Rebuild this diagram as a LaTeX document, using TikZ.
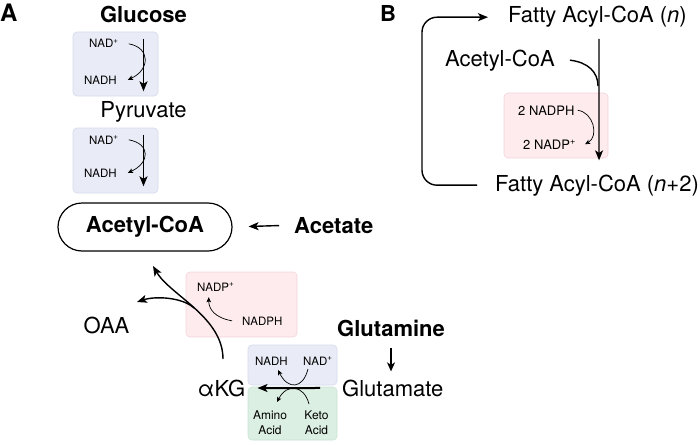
\documentclass[tikz,border=0pt]{standalone}
\usepackage{fontspec}
\setmainfont{TeX Gyre Heros}
\usepackage{tikz}
\usetikzlibrary{arrows.meta,positioning}

\definecolor{lavfill}{RGB}{233,235,246}
\definecolor{lavline}{RGB}{214,218,236}
\definecolor{pinkfill}{RGB}{253,235,237}
\definecolor{pinkline}{RGB}{243,212,218}
\definecolor{greenfill}{RGB}{220,239,227}
\definecolor{greenline}{RGB}{200,226,210}

\begin{document}
\begin{tikzpicture}[x=1pt,y=-1pt,
    >={Stealth[length=10pt,width=8pt,inset=2.5pt]},
    txt/.style={inner sep=0pt,font=\fontsize{22}{26}\selectfont},
    boldtxt/.style={inner sep=0pt,font=\fontsize{22}{26}\selectfont\bfseries},
    smalltxt/.style={inner sep=0pt,font=\fontsize{11.5}{15}\selectfont,align=center},
    redoxbox/.style={rounded corners=4pt,line width=0.6pt,inner sep=0pt},
    lavbox/.style={redoxbox,draw=lavline,fill=lavfill},
    pinkbox/.style={redoxbox,draw=pinkline,fill=pinkfill},
    greenbox/.style={redoxbox,draw=greenline,fill=greenfill},
    mainarr/.style={->,line width=1.4pt},
    thinarr/.style={-{Stealth[length=5pt,width=4.5pt,inset=1pt]},line width=0.7pt}]

  \useasboundingbox (0,0) rectangle (700,444);
%
% panel A : boxes first
  \node[lavbox,minimum width=85pt,minimum height=64pt] (redox1) at (115.5,64) {};
  \node[lavbox,minimum width=85pt,minimum height=65pt] (redox2) at (115.5,160.5) {};
  \node[pinkbox,minimum width=111pt,minimum height=65pt] (idh) at (241.5,304.5) {};
  \node[lavbox,minimum width=89pt,minimum height=40pt] (gdh) at (292.5,365) {};
  \node[greenbox,minimum width=89pt,minimum height=53pt] (trans) at (292.5,413.5) {};
%
  \node[boldtxt,anchor=base west,font=\fontsize{24}{26}\selectfont\bfseries] (lblA) at (0,22) {A};
  \node[boldtxt,anchor=base] (glucose) at (143.5,23) {Glucose};
  \node[txt,anchor=base] (pyruvate) at (143.5,117) {Pyruvate};
  \node[draw,line width=1.2pt,rounded corners=24pt,minimum width=174pt,
        minimum height=48pt,inner sep=0pt,
        font=\fontsize{22}{26}\selectfont\bfseries] (acetyl) at (145,227) {Acetyl-CoA};
  \node[boldtxt,anchor=base west] (acetate) at (294,233) {Acetate};
  \node[txt,anchor=base] (oaa) at (106.5,333) {OAA};
  \node[txt,anchor=base] (akg) at (221.5,396) {αKG};
  \node[boldtxt,anchor=base] (glutamine) at (391,336) {Glutamine};
  \node[txt,anchor=base west] (glutamate) at (342,396) {Glutamate};
%
  \node[smalltxt,anchor=base west] (nad1) at (89,48) {NAD\textsuperscript{+}};
  \node[smalltxt,anchor=base west] (nadh1) at (84,84) {NADH};
  \node[smalltxt,anchor=base west] (nad2) at (89,144) {NAD\textsuperscript{+}};
  \node[smalltxt,anchor=base west] (nadh2) at (84,177) {NADH};
  \node[smalltxt,anchor=base west] (nadp) at (197,291) {NADP\textsuperscript{+}};
  \node[smalltxt,anchor=base west] (nadph) at (242,325) {NADPH};
  \node[smalltxt,anchor=base west] (nadh3) at (255,365) {NADH};
  \node[smalltxt,anchor=base west] (nad3) at (303,365) {NAD\textsuperscript{+}};
  \node[smalltxt,font=\fontsize{12}{15}\selectfont] (amino) at (270,423) {Amino\\Acid};
  \node[smalltxt,font=\fontsize{12}{15}\selectfont] (keto) at (316.5,423) {Keto\\Acid};
%
  \coordinate (kgtop) at (223,359);
  \coordinate (actip) at (153,266);
  \coordinate (oaajoin) at (194,308);
  \coordinate (oaatip) at (137,302);
  \coordinate (nadstart) at (308,369);
  \coordinate (nadhtip) at (278,370);
  \coordinate (ketostart) at (309,404);
  \coordinate (aminotip) at (277,402);
%
  \draw[mainarr] ([yshift=-7pt]redox1.north -| glucose.south) -- ([yshift=5pt]redox1.south -| glucose.south);
  \draw[mainarr] ([yshift=-7pt]redox2.north -| glucose.south) -- ([yshift=7pt]redox2.south -| glucose.south);
  \draw[thinarr] ([xshift=10pt]nad1.east) .. controls +(22,4) and +(22,-10) .. ([xshift=11pt]nadh1.east);
  \draw[thinarr] ([xshift=10pt]nad2.east) .. controls +(22,4) and +(22,-10) .. ([xshift=11pt]nadh2.east);
%
  \draw[mainarr,shorten <=15pt,shorten >=16pt] (acetate.west) -- (acetyl.east);
%
  \draw[mainarr] (kgtop) .. controls +(0,-42) and +(17,29) .. (actip);
  \draw[mainarr] (oaajoin) .. controls +(-12,-11) and +(18,-6) .. (oaatip);
  \draw[thinarr] ([xshift=-10pt]nadph.west) .. controls +(-17,-3) and +(0,12) .. ([xshift=-7pt,yshift=-6pt]nadp.south);
%
  \draw[mainarr,line width=2pt,shorten <=22pt,shorten >=12pt] (glutamate.west) -- (akg.east);
  \draw[thinarr] (nadstart) .. controls +(-5,20) and +(10,20) .. (nadhtip);
  \draw[thinarr] (ketostart) .. controls +(-5,-19) and +(10,-19) .. (aminotip);
  \draw[->,line width=1.2pt,>={Stealth[length=9pt,width=8pt,inset=2.5pt]},shorten <=12pt,shorten >=8pt]
    (glutamine.south) -- (glutamine.south |- glutamate.north);
%
% panel B
  \node[pinkbox,minimum width=104pt,minimum height=65pt] (elong) at (556,125.5) {};
  \node[boldtxt,anchor=base west] (lblB) at (380,22) {B};
  \node[txt,anchor=base west] (fatn) at (508,23) {Fatty Acyl-CoA (\textit{n})};
  \node[txt,anchor=base west] (fatn2) at (495,191) {Fatty Acyl-CoA (\textit{n}+2)};
  \node[txt,anchor=base west] (acetylB) at (445,66) {Acetyl-CoA};
  \node[smalltxt,font=\fontsize{13}{15}\selectfont,anchor=base west] (nadphB) at (518,115) {2 NADPH};
  \node[smalltxt,font=\fontsize{13}{15}\selectfont,anchor=base west] (nadpB) at (523,149) {2 NADP\textsuperscript{+}};
  \coordinate (chainjoin) at (598,86);
%
  \draw[mainarr] ([xshift=1.5pt,yshift=-11pt]fatn.south) -- ([xshift=2pt,yshift=14pt]fatn2.north);
  \draw[line width=1.4pt] ([xshift=15pt]acetylB.east) .. controls +(18,2) and +(0,-14) .. (chainjoin);
  \draw[thinarr] ([xshift=3pt]nadphB.east) .. controls +(16,2) and +(14,-8) .. ([xshift=9pt]nadpB.east);
  \draw[mainarr,rounded corners=15pt] ([xshift=-18pt]fatn2.west) -| ([xshift=-86pt]fatn.west) -- ([xshift=-20pt]fatn.west);

\end{tikzpicture}
\end{document}
